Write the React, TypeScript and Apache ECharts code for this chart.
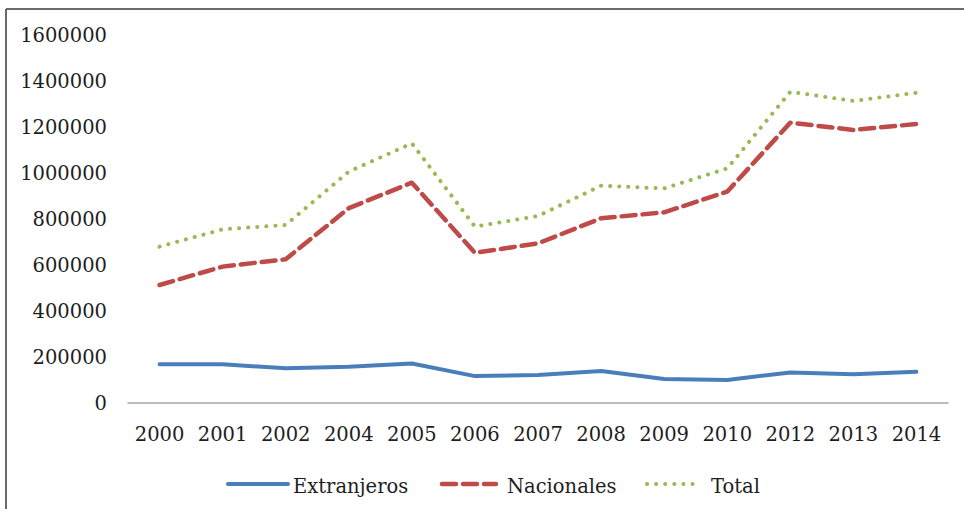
import React, { useEffect, useRef } from "react";
import * as echarts from "echarts";

const years = ["2000", "2001", "2002", "2004", "2005", "2006", "2007", "2008", "2009", "2010", "2012", "2013", "2014"];
const extranjeros = [168000, 168000, 151000, 158000, 172000, 117000, 122000, 139000, 104000, 100000, 133000, 125000, 136000];
const nacionales = [513000, 593000, 625000, 847000, 958000, 653000, 694000, 803000, 829000, 919000, 1219000, 1187000, 1213000];
const total = [680000, 755000, 774000, 1006000, 1129000, 767000, 813000, 945000, 933000, 1020000, 1353000, 1313000, 1349000];
const seriesNames = ["Extranjeros", "Nacionales", "Total"];
const colors = ["#4a7ebb", "#be4b48", "#98b954"];

const FONT = "DejaVu Serif";
const TEXT = "#1e1e1e";

const lineStyles = [
  { width: 4, type: "solid" as any },
  { width: 4.5, type: [14, 7] as any },
  { width: 4, type: [0.1, 9] as any },
];

export default function App() {
  const ref = useRef<HTMLDivElement>(null);
  useEffect(() => {
    if (!ref.current) return;
    const chart = echarts.init(ref.current, null, { renderer: "svg" });
    const legendItems = [
      { x1: 228, x2: 288, tx: 293 },
      { x1: 442, x2: 496, tx: 507 },
      { x1: 647, x2: 700, tx: 711 },
    ];
    const legendGraphics: any[] = [];
    legendItems.forEach((it, i) => {
      legendGraphics.push({
        type: "line",
        shape: { x1: it.x1, y1: 484, x2: it.x2, y2: 484 },
        style: {
          stroke: colors[i],
          lineWidth: lineStyles[i].width,
          lineDash: Array.isArray(lineStyles[i].type) ? lineStyles[i].type : null,
          lineCap: "round",
        },
      });
      legendGraphics.push({
        type: "text",
        x: it.tx,
        y: 486,
        style: {
          text: seriesNames[i],
          fontFamily: FONT,
          fontSize: 19.5,
          fill: TEXT,
          verticalAlign: "middle",
          align: "left",
        },
      });
    });
    chart.setOption({
      animation: false,
      backgroundColor: "#ffffff",
      grid: { left: 128, right: 16, top: 35, bottom: 106, containLabel: false },
      legend: { show: false, data: seriesNames },
      xAxis: {
        type: "category",
        data: years,
        boundaryGap: true,
        axisLine: { show: true, lineStyle: { color: "#a6a6a6", width: 1.5 } },
        axisTick: { show: false },
        axisLabel: { fontFamily: FONT, fontSize: 19.5, color: TEXT, margin: 21, interval: 0 },
        splitLine: { show: false },
      },
      yAxis: {
        type: "value",
        min: 0,
        max: 1600000,
        interval: 200000,
        axisLine: { show: false },
        axisTick: { show: false },
        splitLine: { show: false },
        axisLabel: {
          fontFamily: FONT,
          fontSize: 19.5,
          color: TEXT,
          margin: 21,
          formatter: (v: number) => String(v),
        },
      },
      series: [
        {
          name: seriesNames[0],
          type: "line",
          data: extranjeros,
          symbol: "none",
          color: colors[0],
          lineStyle: { color: colors[0], width: lineStyles[0].width, type: lineStyles[0].type, cap: "round", join: "round" },
        },
        {
          name: seriesNames[1],
          type: "line",
          data: nacionales,
          symbol: "none",
          color: colors[1],
          lineStyle: { color: colors[1], width: lineStyles[1].width, type: lineStyles[1].type, cap: "round", join: "round" },
        },
        {
          name: seriesNames[2],
          type: "line",
          data: total,
          symbol: "none",
          color: colors[2],
          lineStyle: { color: colors[2], width: lineStyles[2].width, type: lineStyles[2].type, cap: "round", join: "round" },
        },
      ],
      graphic: [
        { type: "line", shape: { x1: 6, y1: 9, x2: 964, y2: 9 }, style: { stroke: "#3a3a3a", lineWidth: 1.5 } },
        { type: "line", shape: { x1: 6, y1: 9, x2: 6, y2: 509 }, style: { stroke: "#3a3a3a", lineWidth: 1.5 } },
        ...legendGraphics,
      ],
    });
    return () => chart.dispose();
  }, []);
  return <div ref={ref} style={{ position: "fixed", left: 0, top: 0, width: 964, height: 509 }} />;
}
